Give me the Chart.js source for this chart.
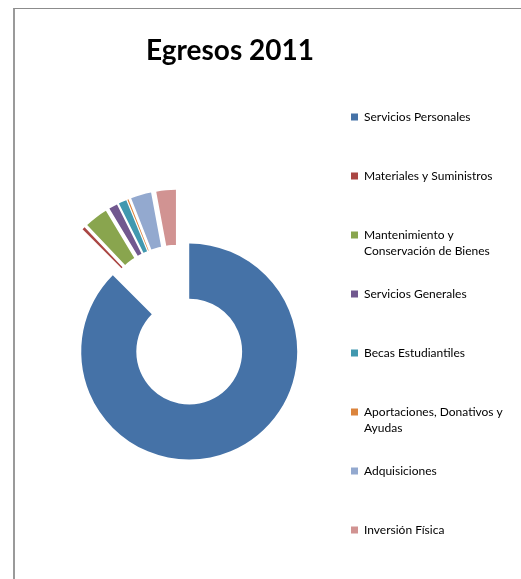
<!DOCTYPE html>
<html>
<head>
<meta charset="utf-8">
<title>Egresos 2011</title>
<script src="https://cdn.jsdelivr.net/npm/chart.js@4.4.1/dist/chart.umd.min.js"></script>
<style>
  html, body { margin: 0; padding: 0; background: #fff; }
  #wrap { position: relative; width: 521px; height: 579px; overflow: hidden; }
  #marco {
    position: absolute; left: 13px; top: 8px; right: -10px; bottom: -10px;
    border-left: 2px solid #9a9a9a; border-top: 1px solid #8c8c8c;
  }
  #grafica { position: absolute; left: 0; top: 0; }
  #titulo {
    position: absolute; left: 80px; width: 300px; top: 35px;
    text-align: center; font: bold 28px/28px Lato, "Open Sans", sans-serif; color: #000;
  }
</style>
</head>
<body>
<div id="wrap">
  <div id="marco"></div>
  <canvas id="grafica" width="521" height="579"></canvas>
  <div id="titulo"></div>
</div>
<script>
// =========================
// DATOS
// =========================
const titulo = "Egresos 2011";

const categorias = [
    "Servicios Personales",
    "Materiales y Suministros",
    "Mantenimiento y\nConservación de Bienes",
    "Servicios Generales",
    "Becas Estudiantiles",
    "Aportaciones, Donativos y\nAyudas",
    "Adquisiciones",
    "Inversión Física"
];

// porcentaje del total
const valores = [87.5, 0.42, 3.47, 1.28, 1.19, 0.17, 3.06, 2.92];

const colores = ["#4572A7", "#AA4643", "#89A54E", "#71588F", "#4198AF", "#DB843D", "#93A9CF", "#D19392"];

// =========================
// ESTILO
// =========================
const EXPLOSION = 28;   // separación de cada porción desde el centro (px)

// el offset de Chart.js recorta los arcos, así que la separación se hace moviendo el centro de cada arco
const pluginExplosion = {
    id: "explosion",
    afterDatasetUpdate(chart, args) {
        const meta = chart.getDatasetMeta(args.index);
        meta.data.forEach(arc => {
            const medio = (arc.startAngle + arc.endAngle) / 2;
            arc.x += Math.cos(medio) * EXPLOSION;
            arc.y += Math.sin(medio) * EXPLOSION;
        });
    }
};

// cada etiqueta ocupa dos líneas para que el espaciado de la leyenda sea uniforme
function etiquetasLeyenda(chart) {
    return categorias.map((cat, i) => {
        const lineas = cat.split("\n");
        if (lineas.length < 2) lineas.push("");
        return {
            text: lineas,
            fillStyle: colores[i],
            strokeStyle: colores[i],
            lineWidth: 0,
            fontColor: "#000",
            hidden: false,
            index: i
        };
    });
}

document.getElementById("titulo").textContent = titulo;

Chart.defaults.font.family = "Lato, 'Open Sans', sans-serif";

const chart = new Chart(document.getElementById("grafica"), {
    type: "doughnut",
    data: {
        labels: categorias,
        datasets: [{
            data: valores,
            backgroundColor: colores,
            borderWidth: 0,
            hoverOffset: 0
        }]
    },
    options: {
        responsive: false,
        animation: false,
        events: [],
        radius: 108,
        cutout: "49%",
        layout: {
            padding: { left: 33, right: 0, top: 84, bottom: 11.6 }
        },
        plugins: {
            title: { display: false },
            legend: {
                position: "right",
                align: "start",
                maxWidth: 197,
                labels: {
                    boxWidth: 7,
                    boxHeight: 7,
                    padding: 27,
                    color: "#000",
                    font: { size: 12, lineHeight: "16px" },
                    generateLabels: etiquetasLeyenda
                }
            },
            tooltip: { enabled: false }
        }
    },
    plugins: [pluginExplosion]
});
</script>
</body>
</html>
